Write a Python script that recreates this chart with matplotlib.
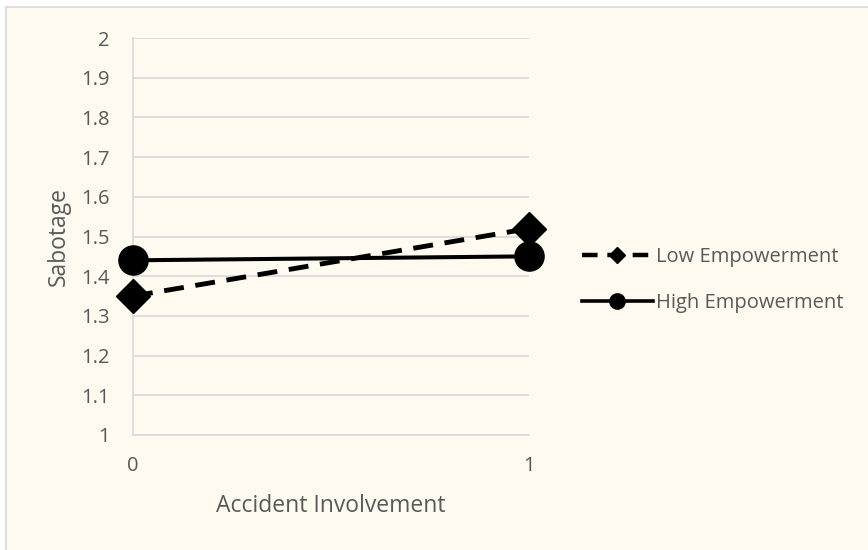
import matplotlib.pyplot as plt
from matplotlib.lines import Line2D
from matplotlib.patches import Rectangle

# data
accident = [0, 1]
x_labels = ["0", "1"]
low_emp = [1.35, 1.52]
high_emp = [1.44, 1.45]
y_ticks = [1, 1.1, 1.2, 1.3, 1.4, 1.5, 1.6, 1.7, 1.8, 1.9, 2]
y_tick_labels = ["1", "1.1", "1.2", "1.3", "1.4", "1.5", "1.6", "1.7", "1.8", "1.9", "2"]

plt.rcParams['font.family'] = ['Open Sans', 'DejaVu Sans']
txt = '#595959'
grid = '#D9D9D9'

fig = plt.figure(figsize=(8.68, 5.5), dpi=100, facecolor='white')
# cream chart area with thin grey border (runs off the right/bottom edges)
fig.patches.append(Rectangle((6 / 868, -0.05), 1.0, 1 - 7 / 550 + 0.05,
                             transform=fig.transFigure, facecolor='#FEFAEF',
                             edgecolor=grid, linewidth=1.2, zorder=-5))

ax = fig.add_axes([133 / 868, 115 / 550, 396 / 868, 397 / 550])
ax.set_facecolor('none')
ax.set_zorder(2)

ax.plot(accident, low_emp, color='black', linewidth=3.5, dashes=(4.1, 2.4),
        marker='D', markersize=17, clip_on=False, zorder=3)
ax.plot(accident, high_emp, color='black', linewidth=2.9,
        marker='o', markersize=21, clip_on=False, zorder=4)

ax.set_xlim(0, 1)
ax.set_ylim(1, 2)
ax.set_xticks(accident)
ax.set_xticklabels(x_labels)
ax.set_yticks(y_ticks)
ax.set_yticklabels(y_tick_labels)
ax.tick_params(length=0, labelsize=14.5, labelcolor=txt)
ax.tick_params(axis='y', pad=17)
ax.tick_params(axis='x', pad=15)
ax.grid(axis='y', color=grid, linewidth=1.2)
ax.set_axisbelow(True)
for s in ['top', 'right']:
    ax.spines[s].set_visible(False)
for s in ['left', 'bottom']:
    ax.spines[s].set_color(grid)
    ax.spines[s].set_linewidth(1.2)

ax.set_xlabel('Accident Involvement', fontsize=16.5, color=txt, labelpad=13)
ax.set_ylabel('Sabotage', fontsize=16.5, color=txt, labelpad=7.5)

handles = [
    Line2D([], [], color='black', linewidth=3.2, dashes=(3.5, 2.2), marker='D', markersize=8),
    Line2D([], [], color='black', linewidth=2.6, marker='o', markersize=11),
]
leg = fig.legend(handles, ['Low Empowerment', 'High Empowerment'],
                 loc='center left', bbox_to_anchor=(564 / 868, 1 - 280 / 550),
                 frameon=False, fontsize=14.5, handlelength=3.5, handletextpad=0.15,
                 labelspacing=1.3)
for t in leg.get_texts():
    t.set_color(txt)

fig.savefig('out.png', dpi=100, facecolor=fig.get_facecolor())
